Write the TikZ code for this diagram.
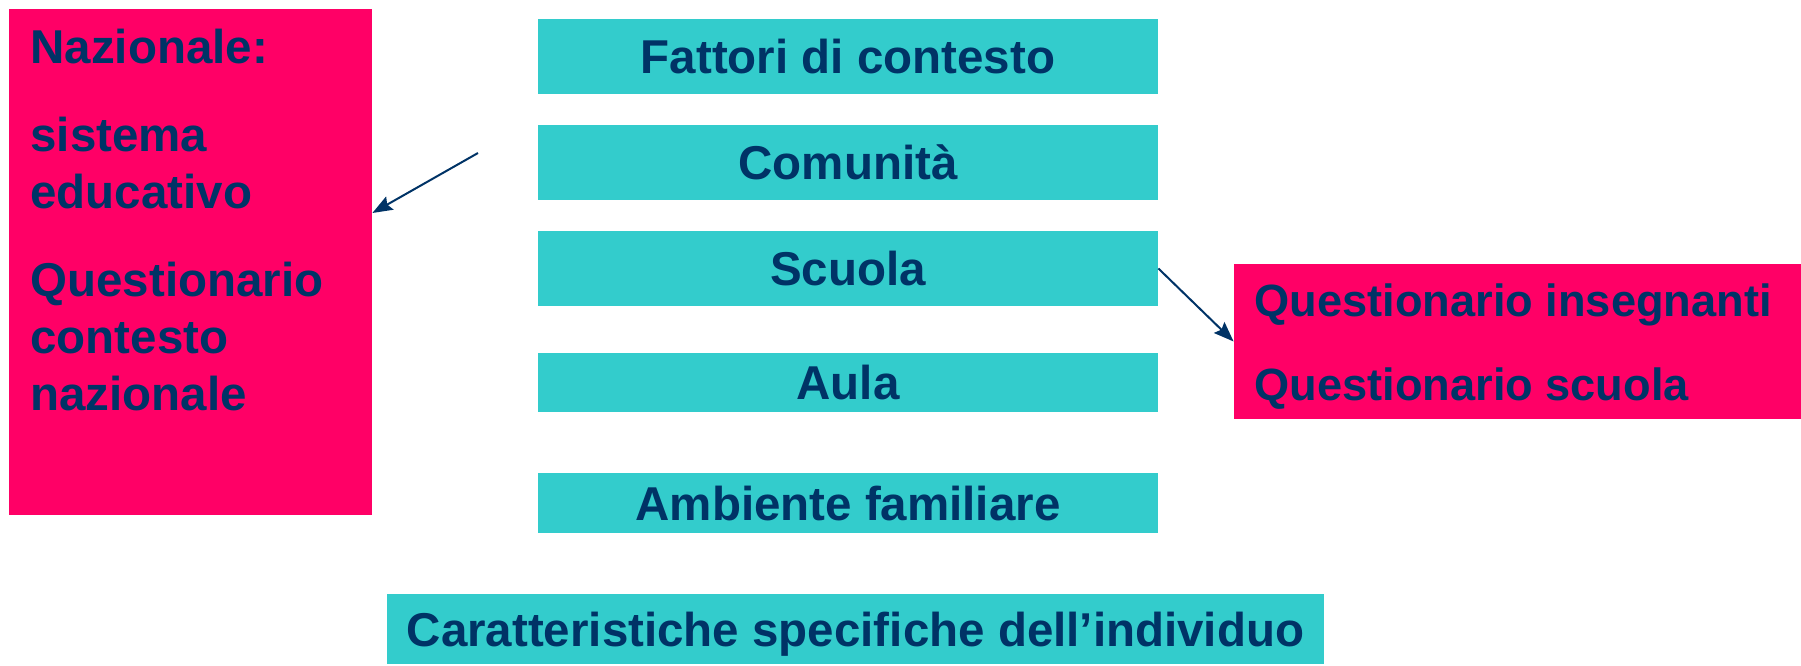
\documentclass[tikz,border=0pt]{standalone}
\usepackage{fontspec}
\setmainfont{Liberation Sans}
\usetikzlibrary{arrows.meta}
\definecolor{rosa}{RGB}{255,0,102}
\definecolor{acqua}{RGB}{51,204,204}
\definecolor{blu}{RGB}{0,51,102}

\begin{document}
\begin{tikzpicture}[x=0.5pt, y=0.5pt,
  every node/.style={font=\fontsize{23.75}{28.5}\selectfont\bfseries, text=blu},
  teal/.style={fill=acqua, minimum width=310pt, text height=17pt, text depth=0pt, inner sep=0pt},
  pink/.style={fill=rosa, inner sep=0pt},
  txt/.style={anchor=north west, align=left, inner sep=0pt},
  freccia/.style={draw=blu, line width=1pt, -{Stealth[length=10pt, width=7.5pt, inset=1.5pt]}}]
\useasboundingbox (0,0) rectangle (1801,665);
\node[pink, minimum width=181.5pt, minimum height=253pt] (NAZ) at (190.5,403) {};
\node[pink, minimum width=283.5pt, minimum height=77.5pt] (QST) at (1517.5,323.5) {};
\node[teal, minimum height=37.5pt] (FAT) at (848,608) {Fattori di contesto};
\node[teal, minimum height=37.5pt] (COM) at (848,502.5) {Comunità};
\node[teal, minimum height=37.5pt] (SCU) at (848,396.5) {Scuola};
\node[teal, minimum height=29.5pt] (AUL) at (848,282.5) {Aula};
\node[teal, minimum height=30pt] (AMB) at (848,162) {Ambiente familiare};
\node[teal, minimum width=468.5pt, minimum height=35pt] (IND) at (855.5,36) {Caratteristiche specifiche dell’individuo};
\node[txt] (NAZT) at (30,636) {Nazionale:\\[15.5pt]sistema\\educativo\\[15.5pt]Questionario\\contesto\\nazionale};
\node[txt, font=\fontsize{22.6}{28}\selectfont\bfseries] (QSTT) at (1254,382) {Questionario insegnanti\\[14pt]Questionario scuola};
\coordinate (A1) at (478,512);
\draw[freccia] (A1) -- ([yshift=24.5pt]NAZ.east);
\draw[freccia] (SCU.east) -- (QST.west);
\end{tikzpicture}
\end{document}
